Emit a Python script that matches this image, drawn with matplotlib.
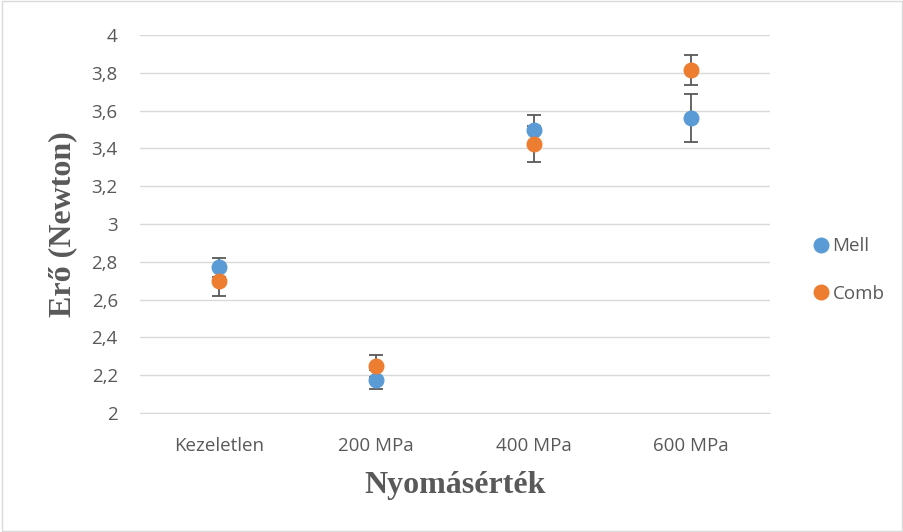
import numpy as np
import matplotlib.pyplot as plt

categories = ['Kezeletlen', '200 MPa', '400 MPa', '600 MPa']
mell = [2.772, 2.175, 3.497, 3.561]
mell_err = [0.05, 0.05, 0.08, 0.127]
comb = [2.698, 2.249, 3.423, 3.815]
comb_err = [0.08, 0.058, 0.095, 0.08]

fig = plt.figure(figsize=(9.04, 5.32), dpi=100)
ax = fig.add_axes([140/904, 1-413/532, 630/904, 378/532])

x = np.arange(1, len(categories)+1)
ax.errorbar(x, mell, yerr=mell_err, fmt='o', color='#5B9BD5', ms=10.5,
            ecolor='#595959', elinewidth=1.3, capsize=5, capthick=1.3, label='Mell', zorder=3)
ax.errorbar(x, comb, yerr=comb_err, fmt='o', color='#ED7D31', ms=10.5,
            ecolor='#595959', elinewidth=1.3, capsize=5, capthick=1.3, label='Comb', zorder=3)

ax.set_xlim(0.5, 4.5)
ax.set_ylim(2, 4)
ax.set_xticks(x)
ax.set_xticklabels(categories)
yt = np.arange(2, 4.01, 0.2)
ax.set_yticks(yt)
ax.set_yticklabels([('%g' % round(v, 1)).replace('.', ',') for v in yt])
ax.grid(axis='y', color='#d9d9d9', lw=1)
ax.set_axisbelow(True)
for s in ax.spines.values():
    s.set_visible(False)
ax.spines['bottom'].set_visible(True)
ax.spines['bottom'].set_color('#d9d9d9')
ax.tick_params(length=0, labelsize=13.5, labelcolor='#595959')
ax.tick_params(axis='y', pad=16)
ax.tick_params(axis='x', pad=17)
for lab in ax.get_xticklabels() + ax.get_yticklabels():
    lab.set_family('Open Sans')

ax.set_xlabel('Nyomásérték', family='Liberation Serif', weight='bold', fontsize=23, color='#595959', labelpad=12)
ax.set_ylabel('Erő (Newton)', family='Liberation Serif', weight='bold', fontsize=23, color='#595959', labelpad=10)

handles, labels = ax.get_legend_handles_labels()
handles = [h[0] for h in handles]
leg = fig.legend(handles, labels, loc='center left', bbox_to_anchor=(795/904, 1-270/532),
                 frameon=False, handletextpad=0.1, labelspacing=1.55, handlelength=1,
                 prop={'family': 'Open Sans', 'size': 13.5})
for t in leg.get_texts():
    t.set_color('#595959')

fig.patches.append(plt.Rectangle((0.002, 0.002), 0.996, 0.996, transform=fig.transFigure,
                                 fill=False, edgecolor='#d9d9d9', lw=1))
fig.savefig('out.png', dpi=100)
